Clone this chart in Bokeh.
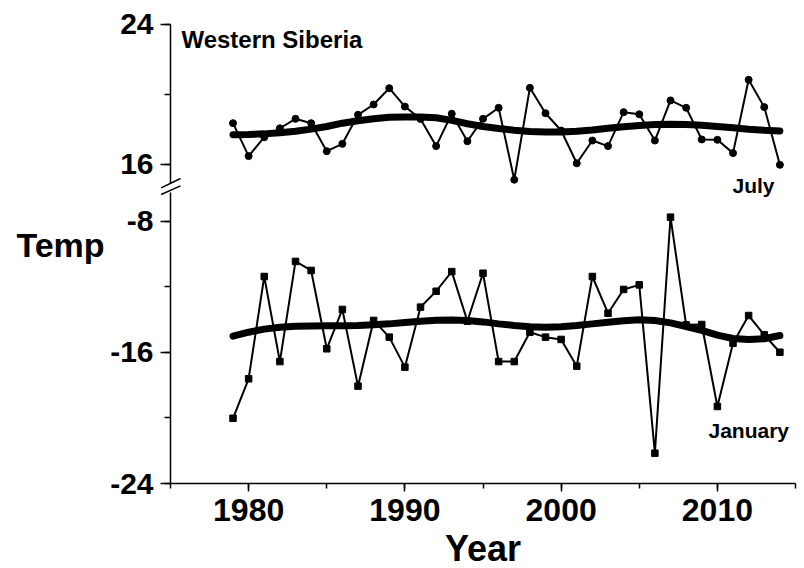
from bokeh.plotting import figure
from bokeh.models import (Range1d, LinearAxis, SingleIntervalTicker, Label, Arrow,
                          PrintfTickFormatter)
from bokeh.embed import file_html
from bokeh.resources import INLINE

# Western Siberia mean monthly air temperature, 1979-2014
years = list(range(1979, 2015))

july = [18.36, 16.48, 17.56, 18.07, 18.61, 18.36, 16.76, 17.18, 18.84, 19.43,
        20.36, 19.31, 18.60, 17.05, 18.90, 17.33, 18.61, 19.24, 15.13, 20.38,
        18.93, 17.94, 16.07, 17.37, 17.05, 18.99, 18.87, 17.37, 19.66, 19.24,
        17.43, 17.41, 16.65, 20.84, 19.28, 15.98]

july_smooth = [17.70, 17.72, 17.75, 17.82, 17.90, 18.02, 18.17, 18.36, 18.50, 18.61,
               18.70, 18.72, 18.72, 18.67, 18.52, 18.33, 18.17, 18.06, 17.96, 17.88,
               17.85, 17.86, 17.90, 17.97, 18.07, 18.16, 18.23, 18.28, 18.30, 18.29,
               18.24, 18.17, 18.10, 18.02, 17.96, 17.92]

january = [-20.02, -17.61, -11.37, -16.56, -10.45, -11.00, -15.78, -13.38, -18.06, -14.05,
           -15.07, -16.90, -13.24, -12.27, -11.07, -14.10, -11.17, -16.56, -16.56, -14.77,
           -15.07, -15.21, -16.84, -11.37, -13.61, -12.16, -11.88, -22.15, -7.75, -14.32,
           -14.30, -19.30, -15.44, -13.75, -14.93, -15.99]

january_smooth = [-15.01, -14.77, -14.58, -14.47, -14.41, -14.39, -14.38, -14.37, -14.36, -14.32,
                  -14.26, -14.18, -14.10, -14.04, -14.02, -14.06, -14.14, -14.26, -14.36, -14.43,
                  -14.46, -14.43, -14.36, -14.26, -14.16, -14.07, -14.01, -14.05, -14.20, -14.42,
                  -14.66, -14.95, -15.15, -15.22, -15.17, -14.97]

FONT = "Liberation Sans"

# The frame fills the whole canvas; axes sit at fixed data locations inside it.
# January values use the main y range, July values an extra range on the same frame.
p = figure(width=804, height=568, output_backend="svg", toolbar_location=None,
           title=None,
           x_range=Range1d(1964.12, 2015.576), y_range=Range1d(-29.186, 5.47),
           min_border=0, min_border_left=0, min_border_right=0,
           min_border_top=0, min_border_bottom=0)
p.extra_y_ranges = {"july": Range1d(-7.086, 25.371)}
p.xgrid.visible = False
p.ygrid.visible = False
p.outline_line_color = None
p.background_fill_color = "white"
p.border_fill_color = "white"


def style_axis(ax, size):
    ax.axis_line_color = "black"
    ax.axis_line_width = 1.5
    ax.major_tick_line_color = "black"
    ax.major_tick_line_width = 1.5
    ax.minor_tick_line_color = "black"
    ax.minor_tick_line_width = 1.5
    ax.major_tick_in = 0
    ax.minor_tick_in = 0
    ax.major_label_text_font = FONT
    ax.major_label_text_font_style = "bold"
    ax.major_label_text_font_size = size
    ax.major_label_text_color = "black"


# x axis
xa = p.xaxis[0]
xa.ticker = SingleIntervalTicker(interval=10, num_minor_ticks=2)
xa.bounds = (1975, 2015)
xa.fixed_location = -24
style_axis(xa, "32px")
xa.major_tick_out = 8
xa.minor_tick_out = 5
xa.major_label_standoff = 7

# January axis (lower part)
ya = p.yaxis[0]
ya.ticker = SingleIntervalTicker(interval=8, num_minor_ticks=2)
ya.formatter = PrintfTickFormatter(format="%d")
ya.bounds = (-24, -6.25)
ya.fixed_location = 1975
style_axis(ya, "30px")
ya.major_tick_out = 10
ya.minor_tick_out = 6
ya.major_label_standoff = 7

# July axis (upper part)
ja = LinearAxis(y_range_name="july",
                ticker=SingleIntervalTicker(interval=8, num_minor_ticks=2),
                formatter=PrintfTickFormatter(format="%d"),
                bounds=(14.9, 24), fixed_location=1975)
style_axis(ja, "30px")
ja.major_tick_out = 10
ja.minor_tick_out = 6
ja.major_label_standoff = 7
p.add_layout(ja, "left")

# July series
p.line(years, july, line_color="black", line_width=2, y_range_name="july")
p.scatter(years, july, marker="circle", size=7, color="black", y_range_name="july")
p.line(years, july_smooth, line_color="black", line_width=7, y_range_name="july",
       line_cap="round")

# January series
p.line(years, january, line_color="black", line_width=2)
p.scatter(years, january, marker="square", size=6.5, color="black")
p.line(years, january_smooth, line_color="black", line_width=7, line_cap="round")

# axis break marks
for y0, y1 in [(-5.96, -5.39), (-6.37, -5.84)]:
    p.add_layout(Arrow(end=None, x_start=1974.40, y_start=y0, x_end=1975.64, y_end=y1,
                       line_color="black", line_width=1.5))


# texts
def add_text(x, y, text, size, align="left", rng="default"):
    p.add_layout(Label(x=x, y=y, text=text, text_font=FONT, text_font_style="bold",
                       text_font_size=size, text_color="black", text_align=align,
                       text_baseline="alphabetic", y_range_name=rng))


add_text(1975.7, 23.15, "Western Siberia", "24px", rng="july")
add_text(2010.97, 14.79, "July", "21px", rng="july")
add_text(2009.43, -20.77, "January", "21px")
add_text(1965.14, -9.42, "Temp", "34px")
add_text(1995.0, -27.99, "Year", "36px", align="center")

open("out.html", "w").write(file_html(p, INLINE))
